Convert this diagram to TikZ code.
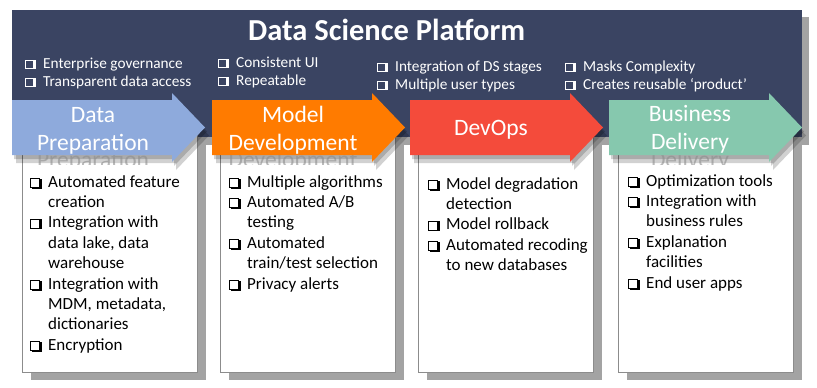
\documentclass[tikz,border=0pt]{standalone}
\usepackage{fontspec}
\setmainfont{Carlito}
\definecolor{bannerc}{HTML}{3A4462}
\definecolor{bluea}{HTML}{8EAADC}
\definecolor{orangea}{HTML}{FF7B00}
\definecolor{reda}{HTML}{F44B3B}
\definecolor{teala}{HTML}{86C8AE}
\definecolor{shadowc}{HTML}{A3A3A3}
% checkbox: #1 size, #2 frame colour, #3 fill colour, #4 shadow offset
\newcommand\chk[4]{{\setlength\fboxsep{0pt}\setlength\fboxrule{1pt}%
  \rlap{\kern#4\raisebox{-#4}{\color{#2}\rule{#1}{#1}}}%
  \fcolorbox{#2}{#3}{\rule{0pt}{\dimexpr#1-2pt\relax}\rule{\dimexpr#1-2pt\relax}{0pt}}}}
\newcommand\itm[1]{\par\noindent\hangindent=18pt\hangafter=1\makebox[18pt][l]{\chk{10pt}{black}{white}{1.6pt}}#1}
\newcommand\boxlist[1]{\vtop{\hsize=180pt\parindent=0pt\parskip=0pt\fontsize{17}{20.4}\selectfont #1\par}}
\newcommand\topitem{\makebox[18pt][l]{\chk{9pt}{white}{bannerc}{1.4pt}}}
\newcommand\toplist[2]{\vtop{\hsize=220pt\parindent=0pt\parskip=0pt\fontsize{15.3}{18}\selectfont\noindent\topitem#1\par\noindent\topitem#2\par}}
\newcommand\lbl[2]{\vtop{\fontsize{23.5}{28}\selectfont\hbox to 0pt{\hss#1\hss}\hbox to 0pt{\hss#2\hss}}}
\begin{document}
\begin{tikzpicture}[x=1pt,y=-1pt,
  boxc/.style={fill=white,draw=black!45,line width=0.6pt},
  boxshadow/.style={fill=shadowc},
  lbltext/.style={text=white,inner sep=0pt,anchor=base},
  ghosttext/.style={text=black!45,opacity=.6,inner sep=0pt,anchor=base,font=\fontsize{23.5}{28}\selectfont},
  listtext/.style={inner sep=0pt,anchor=base west}]
\useasboundingbox (0,0) rectangle (817,388);
\fill[white] (0,0) rectangle (817,388);
% banner
\fill[shadowc] (18,17) rectangle (809,145);
\fill[bannerc] (12,10) rectangle (802,137);
\node[text=white,inner sep=0pt,anchor=base west,font=\fontsize{30.5}{36}\selectfont\bfseries] (title) at (248,40) {Data Science Platform};
\node[text=white,listtext] (t1) at (25,68) {\toplist{Enterprise governance}{Transparent data access}};
\node[text=white,listtext] (t2) at (218,67) {\toplist{Consistent UI}{Repeatable}};
\node[text=white,listtext] (t3) at (377,71) {\toplist{Integration of DS stages}{Multiple user types}};
\node[text=white,listtext] (t4) at (565,71) {\toplist{Masks Complexity}{Creates reusable ‘product’}};
% boxes
\foreach \x in {22,220,418,618}{
  \fill[boxshadow] (\x+9,139) rectangle (\x+184,380);
  \filldraw[boxc] (\x,130) rectangle (\x+175,372);
}
% arrow shadows
\foreach \x in {12,212,410,609}{
  \fill[black,opacity=.18,shift={(\x+2,4)}] (0,100) -- (160,100) -- (160,93) -- (193,127.5) -- (160,162) -- (160,155) -- (0,155) -- cycle;
  \fill[black,opacity=.18,shift={(\x+4,8)}] (0,100) -- (160,100) -- (160,93) -- (193,127.5) -- (160,162) -- (160,155) -- (0,155) -- cycle;
}
% ghost reflections of the lower label lines
\begin{scope}
\clip (0,154) rectangle (817,164);
\node[ghosttext] (g1) at (93,167) {Preparation};
\node[ghosttext] (g2) at (293,167) {Development};
\node[ghosttext] (g4) at (690,167) {Delivery};
\end{scope}
% arrows
\foreach \x/\c in {12/bluea,212/orangea,410/reda,609/teala}{
  \fill[\c,shift={(\x,0)}] (0,100) -- (160,100) -- (160,93) -- (193,127.5) -- (160,162) -- (160,155) -- (0,155) -- cycle;
}
\node[lbltext] (a1) at (93,122) {\lbl{Data}{Preparation}};
\node[lbltext] (a2) at (293,122) {\lbl{Model}{Development}};
\node[lbltext,font=\fontsize{23.5}{28}\selectfont] (a3) at (491,135) {DevOps};
\node[lbltext] (a4) at (690,121) {\lbl{Business}{Delivery}};
% box lists
\node[listtext] (b1) at (30,187) {\boxlist{%
\itm{Automated feature\newline creation}
\itm{Integration with\newline data lake, data\newline warehouse}
\itm{Integration with\newline MDM, metadata,\newline dictionaries}
\itm{Encryption}}};
\node[listtext] (b2) at (229,187) {\boxlist{%
\itm{Multiple algorithms}
\itm{Automated A/B\newline testing}
\itm{Automated\newline train/test selection}
\itm{Privacy alerts}}};
\node[listtext] (b3) at (428,189) {\boxlist{%
\itm{Model degradation\newline detection}
\itm{Model rollback}
\itm{Automated recoding\newline to new databases}}};
\node[listtext] (b4) at (628,186) {\boxlist{%
\itm{Optimization tools}
\itm{Integration with\newline business rules}
\itm{Explanation\newline facilities}
\itm{End user apps}}};
\end{tikzpicture}
\end{document}
